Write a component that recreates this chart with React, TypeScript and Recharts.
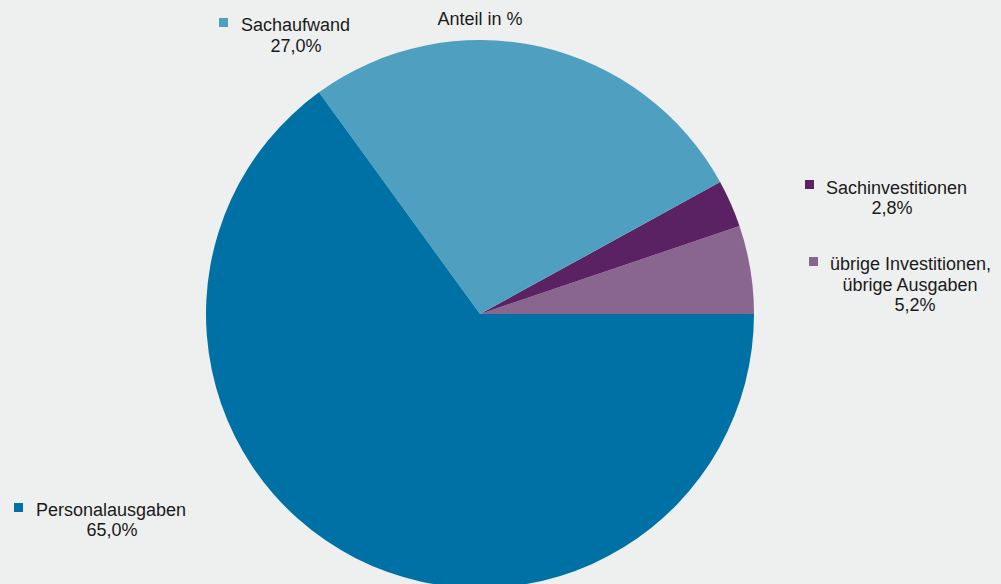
import React from "react";
import { PieChart, Pie, Cell } from "recharts";

const categories = ["übrige Investitionen, übrige Ausgaben", "Sachinvestitionen", "Sachaufwand", "Personalausgaben"];
const values = [5.2, 2.8, 27.0, 65.0];
const valueLabels = ["5,2%", "2,8%", "27,0%", "65,0%"];
const colors = ["#89668F", "#5B2263", "#4F9FC0", "#0071A4"];

const data = categories.map((name, i) => ({ name, value: values[i] }));

// label layout: square position, text lines with anchor x and baseline y
const labelLayout = [
  {
    sq: [809, 257],
    lines: [
      { text: "übrige Investitionen,", x: 830, y: 270, anchor: "start" },
      { text: "übrige Ausgaben", x: 910, y: 291, anchor: "middle" },
      { text: valueLabels[0], x: 915, y: 311, anchor: "middle" },
    ],
  },
  {
    sq: [805, 180],
    lines: [
      { text: "Sachinvestitionen", x: 826, y: 194, anchor: "start" },
      { text: valueLabels[1], x: 892, y: 214, anchor: "middle" },
    ],
  },
  {
    sq: [219, 18],
    lines: [
      { text: "Sachaufwand", x: 241, y: 31, anchor: "start" },
      { text: valueLabels[2], x: 296, y: 52, anchor: "middle" },
    ],
  },
  {
    sq: [14, 503],
    lines: [
      { text: "Personalausgaben", x: 36, y: 516, anchor: "start" },
      { text: valueLabels[3], x: 112, y: 536, anchor: "middle" },
    ],
  },
];

const renderLabel = (props: any) => {
  const i = props.index;
  const l = labelLayout[i];
  return (
    <g key={"lbl" + i}>
      <rect x={l.sq[0]} y={l.sq[1]} width={9} height={9} fill={colors[i]} />
      {l.lines.map((ln, k) => (
        <text
          key={k}
          x={ln.x}
          y={ln.y}
          textAnchor={ln.anchor as any}
          fill="#1a1a1a"
          fontSize={18}
          fontFamily="'Liberation Sans', Arial, sans-serif"
        >
          {ln.text}
        </text>
      ))}
    </g>
  );
};

export default function App() {
  return (
    <div style={{ position: "fixed", left: 0, top: 0, width: 1001, height: 584, background: "#EEF0F0", overflow: "hidden" }}>
      <PieChart width={1001} height={584} margin={{ top: 0, right: 0, bottom: 0, left: 0 }}>
        <text x={480} y={25} textAnchor="middle" fill="#1a1a1a" fontSize={18} fontFamily="'Liberation Sans', Arial, sans-serif">
          Anteil in %
        </text>
        <Pie
          data={data}
          dataKey="value"
          nameKey="name"
          cx={480}
          cy={314}
          outerRadius={274}
          startAngle={0}
          endAngle={360}
          stroke="none"
          label={renderLabel}
          labelLine={false}
          isAnimationActive={false}
        >
          {data.map((d, i) => (
            <Cell key={i} fill={colors[i]} />
          ))}
        </Pie>
      </PieChart>
    </div>
  );
}
